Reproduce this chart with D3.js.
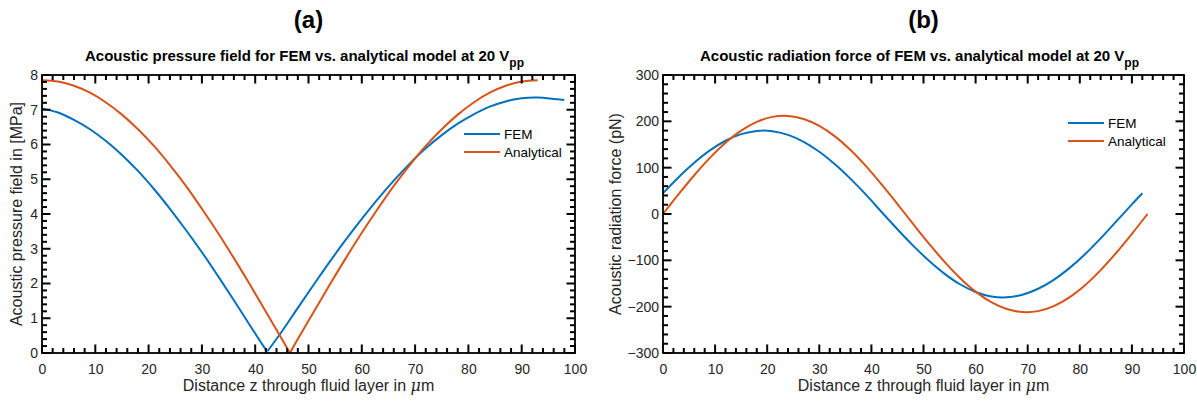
<!DOCTYPE html>
<html><head><meta charset="utf-8">
<script src="https://cdn.jsdelivr.net/npm/d3@7"></script>
<style>body{margin:0;background:#fff;} text{font-family:"Liberation Sans",Arial,sans-serif;}</style>
</head><body><svg id="c" width="1197" height="401"></svg>
<script>
// ---- data ----
const pFemZ = [0,3,6,9,12,15,18,21,24,27,30,33,36,39,42,42.3,45,48,51,54,57,60,63,66,69,72,75,78,81,84,87,90,93,96,98];
const pFemV = [7.04,6.92,6.71,6.44,6.10,5.70,5.24,4.72,4.15,3.54,2.90,2.22,1.52,0.80,0.10,0.05,0.62,1.30,1.97,2.63,3.26,3.86,4.43,4.96,5.45,5.89,6.27,6.60,6.87,7.09,7.24,7.33,7.35,7.31,7.28];
const pAnaZ = [0,3,6,9,12,15,18,21,24,27,30,33,36,39,42,45,46.5,48,51,54,57,60,63,66,69,72,75,78,81,84,87,90,93];
const pAnaV = [7.85,7.81,7.69,7.49,7.21,6.86,6.44,5.96,5.41,4.81,4.15,3.46,2.73,1.97,1.19,0.40,0.0,0.40,1.19,1.97,2.73,3.46,4.15,4.81,5.41,5.96,6.44,6.86,7.21,7.49,7.69,7.81,7.85];
const fFemZ = [0,3,6,9,12,15,18,21,24,27,30,33,36,39,42,45,48,51,54,57,60,63,66,69,72,75,78,81,84,87,90,92];
const fFemV = [45,79.5,110.7,137.3,158.1,172.3,179.3,178.8,170.8,155.8,134.3,107.2,75.8,41.2,3.7,-33,-68.2,-100.4,-128.6,-151.6,-168.3,-177.9,-179.8,-174.2,-161.3,-142,-116.8,-86.8,-52.6,-16,20.8,44.7];
const fAnaZ = [0,3,6,9,12,15,18,21,24,27,30,33,36,39,42,45,48,51,54,57,60,63,66,69,72,75,78,81,84,87,90,93];
const fAnaV = [0,42.7,83.6,121.1,153.7,179.9,198.8,209.6,211.7,205.2,190.3,167.6,138,102.8,63.2,21.4,-21.4,-63.2,-102.8,-138,-167.6,-190.3,-205.2,-211.7,-209.6,-198.8,-179.9,-153.7,-121.1,-83.6,-42.7,0];
const xTicks = [0,10,20,30,40,50,60,70,80,90,100];
const yTicksA = [0,1,2,3,4,5,6,7,8];
const yTicksB = [-300,-200,-100,0,100,200,300];
const seriesNames = ["FEM","Analytical"];
const colors = ["#0072BD","#D95319"];

const svg = d3.select("#c");

function panel(o){
  const g = svg.append("g");
  const x = d3.scaleLinear().domain([0,100]).range([o.x0,o.x1]);
  const y = d3.scaleLinear().domain(o.ydom).range([o.y1,o.y0]);
  const L=o.x0,R=o.x1,T=o.y0,B=o.y1;
  const ax = g.append("g").attr("transform",`translate(0,${B})`)
    .call(d3.axisBottom(x).tickValues(xTicks).tickSize(0).tickPadding(11).tickFormat(d3.format("d")));
  ax.select(".domain").remove();
  ax.selectAll("text").attr("font-size",14).attr("fill","#262626").attr("font-family","Liberation Sans, Arial, sans-serif");
  const ay = g.append("g").attr("transform",`translate(${L},0)`)
    .call(d3.axisLeft(y).tickValues(o.yticks).tickSize(0).tickPadding(4).tickFormat(d3.format("d")));
  ay.select(".domain").remove();
  ay.selectAll("text").attr("font-size",14).attr("fill","#262626").attr("font-family","Liberation Sans, Arial, sans-serif");
  const line = d3.line().x(d=>x(d[0])).y(d=>y(d[1])).curve(d3.curveCatmullRom.alpha(0.5));
  o.series.forEach((s,i)=>{
    const pts = d3.zip(s.z,s.v);
    const parts = [];
    if (o.split){
      const im = d3.minIndex(s.v);
      parts.push(pts.slice(0,im+1)); parts.push(pts.slice(im));
    } else parts.push(pts);
    parts.forEach(p=>{
      g.append("path").datum(p).attr("d",line)
        .attr("fill","none").attr("stroke",colors[i]).attr("stroke-width",2);
    });
  });
  // ticks, all four sides, inward
  const tw = 2;
  const tks = [];
  d3.range(0,51).forEach(k=>{
    const len = (k%5===0)?8.5:5;
    const px = x(k*2);
    tks.push({x:px-tw/2,y:B-len,w:tw,h:len});
    tks.push({x:px-tw/2,y:T,w:tw,h:len});
  });
  const nY = Math.round((o.ydom[1]-o.ydom[0])/o.yminor);
  const per = Math.round(o.ymajor/o.yminor);
  d3.range(0,nY+1).forEach(k=>{
    const len = (k%per===0)?8.5:5;
    const py = y(o.ydom[0]+k*o.yminor);
    tks.push({x:L,y:py-tw/2,w:len,h:tw});
    tks.push({x:R-len,y:py-tw/2,w:len,h:tw});
  });
  g.append("g").selectAll("rect").data(tks).join("rect")
    .attr("x",d=>d.x).attr("y",d=>d.y).attr("width",d=>d.w).attr("height",d=>d.h)
    .attr("fill","#000").attr("stroke","none");
  g.append("rect").attr("x",L).attr("y",T).attr("width",R-L).attr("height",B-T)
    .attr("fill","none").attr("stroke","#000").attr("stroke-width",1.8);
  g.append("text").attr("x",(L+R)/2).attr("y",28).attr("text-anchor","middle")
    .attr("font-size",24).attr("font-weight","bold").attr("fill","#000").text(o.letter);
  const t = g.append("text").attr("x",(L+R)/2 - 4).attr("y",61).attr("text-anchor","middle")
    .attr("font-size",15).attr("font-weight","bold").attr("fill","#000");
  t.append("tspan").text(o.title+" V");
  t.append("tspan").attr("dy",6).attr("font-size",12).text("pp");
  const xl = g.append("text").attr("x",(L+R)/2).attr("y",391).attr("text-anchor","middle")
    .attr("font-size",16).attr("fill","#262626");
  xl.append("tspan").text("Distance z through fluid layer in ");
  xl.append("tspan").attr("font-style","italic").attr("font-family","DejaVu Serif, serif").text("μ");
  xl.append("tspan").text("m");
  g.append("text").attr("transform",`translate(${o.ylx},${(T+B)/2}) rotate(-90)`)
    .attr("text-anchor","middle").attr("font-size",16).attr("fill","#262626").text(o.ylabel);
  seriesNames.forEach((n,i)=>{
    const ly = o.legY + i*18;
    g.append("line").attr("x1",o.legX).attr("x2",o.legX+36).attr("y1",ly).attr("y2",ly)
      .attr("stroke",colors[i]).attr("stroke-width",2);
    g.append("text").attr("x",o.legX+40).attr("y",ly+5).attr("font-size",13.5).attr("fill","#000").text(n);
  });
}

panel({x0:42,x1:575,y0:75,y1:353,ydom:[0,8],yticks:yTicksA,ymajor:1,yminor:0.2,split:true,
  letter:"(a)",title:"Acoustic pressure field for FEM vs. analytical model at 20",
  ylabel:"Acoustic pressure field in [MPa]",ylx:22,legX:464,legY:134,
  series:[{z:pFemZ,v:pFemV},{z:pAnaZ,v:pAnaV}]});
panel({x0:663,x1:1184,y0:75,y1:353,ydom:[-300,300],yticks:yTicksB,ymajor:100,yminor:20,split:false,
  letter:"(b)",title:"Acoustic radiation force of FEM vs. analytical model at 20",
  ylabel:"Acoustic radiation force (pN)",ylx:621,legX:1068,legY:123,
  series:[{z:fFemZ,v:fFemV},{z:fAnaZ,v:fAnaV}]});
</script></body></html>
